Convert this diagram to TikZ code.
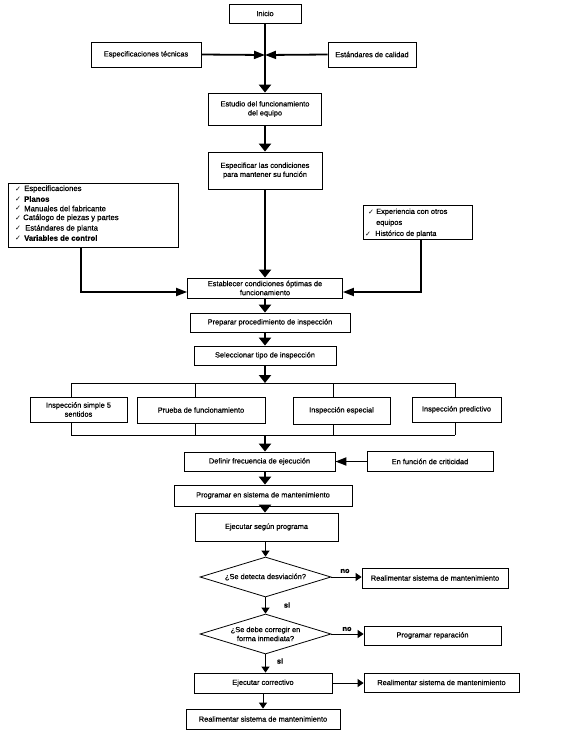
\documentclass[tikz,border=0pt]{standalone}
\usepackage{fontspec}
\setmainfont{Liberation Sans}[FakeBold=0.6]
\newfontfamily\dejavu{DejaVu Sans}
\usetikzlibrary{arrows.meta,shapes.geometric}
\newcommand{\fs}{\fontsize{7.4}{9}\selectfont}
\newcommand{\ck}{{\dejavu\fontsize{7}{8}\selectfont ✓}}
\begin{document}
\begin{tikzpicture}[x=1pt,y=-1pt,
  box/.style={draw,line width=0.8pt,inner sep=1pt,align=center,font=\fs},
  listtxt/.style={anchor=west,inner sep=0pt,font=\fontsize{7.7}{9}\selectfont},
  listtxtr/.style={anchor=west,inner sep=0pt,font=\fs},
  chk/.style={anchor=west,inner sep=0pt},
  thickarrow/.style={line width=2.8pt,-{Triangle[width=12pt,length=8pt]}},
  medarrow/.style={line width=1.8pt,-{Triangle[width=8pt,length=11pt]}},
  thinarrow/.style={line width=1pt,-{Triangle[width=8pt,length=6pt]}},
  conn/.style={line width=0.8pt},
  lbl/.style={inner sep=0pt,font=\fs\bfseries},
  dec/.style={draw,diamond,aspect=3.275,inner sep=0pt,minimum width=131pt,minimum height=40pt,line width=0.8pt,align=center,font=\fs}
]
\useasboundingbox[fill=white] (0,0) rectangle (566,732);

% top
\node[box,minimum width=72pt,minimum height=19pt] (inicio) at (265,13.5) {Inicio};
\node[box,minimum width=110pt,minimum height=25pt] (espec) at (146,54.5) {Especificaciones técnicas};
\node[box,minimum width=88pt,minimum height=25pt] (estand) at (372,54.5) {Estándares de calidad};
\node[box,minimum width=113pt,minimum height=32pt] (estudio) at (265,109) {Estudio del funcionamiento\\del equipo};
\node[box,minimum width=114pt,minimum height=37pt] (especif) at (265,170.5) {Especificar las condiciones\\para mantener su función};
\coordinate (j) at (265,55);

% left list
\node[draw,line width=0.8pt,minimum width=170pt,minimum height=64pt,inner sep=0pt] (llist) at (93,215) {};
\node[chk] (c1) at (15,189) {\ck};
\node[chk] (c2) at (15,199) {\ck};
\node[chk] (c3) at (15,208.5) {\ck};
\node[chk] (c4) at (15,218) {\ck};
\node[chk] (c5) at (15,228.5) {\ck};
\node[chk] (c6) at (15,238) {\ck};
\node[listtxt] (l1) at (24,189) {Especificaciones};
\node[listtxt] (l2) at (24,199) {\bfseries Planos};
\node[listtxt] (l3) at (24,208.5) {Manuales del fabricante};
\node[listtxt] (l4) at (23,218) {Catálogo de piezas y partes};
\node[listtxt] (l5) at (25,228.5) {Estándares de planta};
\node[listtxt] (l6) at (24,238) {\bfseries Variables de control};

% right list
\node[draw,line width=0.8pt,minimum width=109pt,minimum height=34pt,inner sep=0pt] (rlist) at (417.5,222) {};
\node[chk] (rc1) at (368,212) {\ck};
\node[chk] (rc2) at (365,234) {\ck};
\node[listtxtr] (r1) at (376,212) {Experiencia con otros};
\node[listtxtr] (r2) at (376,223) {equipos};
\node[listtxtr] (r3) at (375,234) {Histórico de planta};

\node[box,minimum width=155pt,minimum height=20pt,inner sep=0pt] (estab) at (265,288) {Establecer condiciones óptimas de\\funcionamiento};
\node[box,minimum width=160pt,minimum height=19pt] (prep) at (270,322.5) {Preparar procedimiento de inspección};
\node[box,minimum width=142pt,minimum height=19pt] (selec) at (265,355.5) {Seleccionar tipo de inspección};

% inspection types
\node[box,minimum width=97pt,minimum height=25pt] (simple) at (78.5,409.5) {Inspección simple 5\\sentidos};
\node[box,minimum width=128pt,minimum height=26pt] (prueba) at (201,410) {Prueba de funcionamiento};
\node[box,minimum width=97pt,minimum height=27pt] (especial) at (341.5,410.5) {Inspección especial};
\node[box,minimum width=89pt,minimum height=25pt] (predic) at (456.5,409.5) {Inspección predictivo};

\coordinate (t1) at (71,383);
\coordinate (t2) at (195,383);
\coordinate (t3) at (333,383);
\coordinate (t4) at (455,383);
\coordinate (tm) at (265,383);
\coordinate (b1) at (71,435);
\coordinate (b2) at (195,435);
\coordinate (b3) at (333,435);
\coordinate (b4) at (455,435);
\coordinate (bm) at (265,435);

\node[box,minimum width=151pt,minimum height=19pt] (defin) at (259.5,461.5) {Definir frecuencia de ejecución};
\node[box,minimum width=126pt,minimum height=20pt] (enfun) at (430,461.5) {En función de criticidad};
\node[box,minimum width=178pt,minimum height=21pt] (progr) at (263,495.5) {Programar en sistema de mantenimiento};
\node[box,minimum width=143pt,minimum height=28pt] (ejec) at (266.5,527) {Ejecutar según programa};
\node[dec] (d1) at (265.5,577) {¿Se detecta desviación?};
\node[box,minimum width=146pt,minimum height=20pt] (real1) at (435,578) {Realimentar sistema de mantenimiento};
\node[dec] (d2) at (265.5,634) {¿Se debe corregir en\\forma inmediata?};
\node[box,minimum width=137pt,minimum height=19pt] (prep2) at (432.5,635.5) {Programar reparación};
\node[box,minimum width=138pt,minimum height=20pt] (ejcor) at (263,683) {Ejecutar correctivo};
\node[box,minimum width=155pt,minimum height=19pt] (real2) at (441.5,682.5) {Realimentar sistema de mantenimiento};
\node[box,minimum width=154pt,minimum height=20pt] (real3) at (263,719) {Realimentar sistema de mantenimiento};

\node[lbl] (no1) at (345,571) {no};
\node[lbl] (si1) at (287,605) {si};
\node[lbl] (no2) at (347,629) {no};
\node[lbl] (si2) at (280,661) {si};

% connectors
\draw[thickarrow] (inicio.south) -- (estudio.north);
\draw[medarrow] (espec.east) -- (j);
\draw[medarrow] (estand.west) -- (j);
\draw[thickarrow] (estudio.south) -- (especif.north);
\draw[thickarrow] (especif.south) -- (estab.north);
\coordinate (lc) at (81,292);
\coordinate (rc) at (421,292);
\draw[medarrow] (llist.south -| lc) -- (lc) -- (estab.west |- lc);
\draw[medarrow] (rlist.south -| rc) -- (rc) -- (estab.east |- rc);
\draw[thickarrow] (estab.south) -- (estab.south |- prep.north);
\draw[thickarrow] (estab.south |- prep.south) -- (selec.north);
\draw[thickarrow] (selec.south) -- (tm);

\draw[conn] (t1) -- (t4);
\draw[conn] (t1) -- (t1 |- simple.north);
\draw[conn] (t2) -- (t2 |- prueba.north);
\draw[conn] (t3) -- (t3 |- especial.north);
\draw[conn] (t4) -- (t4 |- predic.north);
\draw[conn] (b1) -- (b4);
\draw[conn] (b1) -- (b1 |- simple.south);
\draw[conn] (b2) -- (b2 |- prueba.south);
\draw[conn] (b3) -- (b3 |- especial.south);
\draw[conn] (b4) -- (b4 |- predic.south);

\draw[thickarrow] (bm) -- (bm |- defin.north);
\draw[medarrow] (enfun.west) -- (defin.east);
\draw[thickarrow] (bm |- defin.south) -- (bm |- progr.north);
\draw[thickarrow] (bm |- progr.south) -- (bm |- ejec.north);
\draw[thinarrow] (ejec.south -| d1.north) -- (d1.north);
\draw[thinarrow] (d1.east) -- (d1.east -| real1.west);
\draw[thinarrow] (d1.south) -- (d2.north);
\draw[thinarrow] (d2.east) -- (d2.east -| prep2.west);
\draw[thinarrow] (d2.south) -- (d2.south |- ejcor.north);
\draw[thinarrow] (ejcor.east) -- (ejcor.east -| real2.west);
\draw[thinarrow] (ejcor.south) -- (real3.north);
\end{tikzpicture}
\end{document}
